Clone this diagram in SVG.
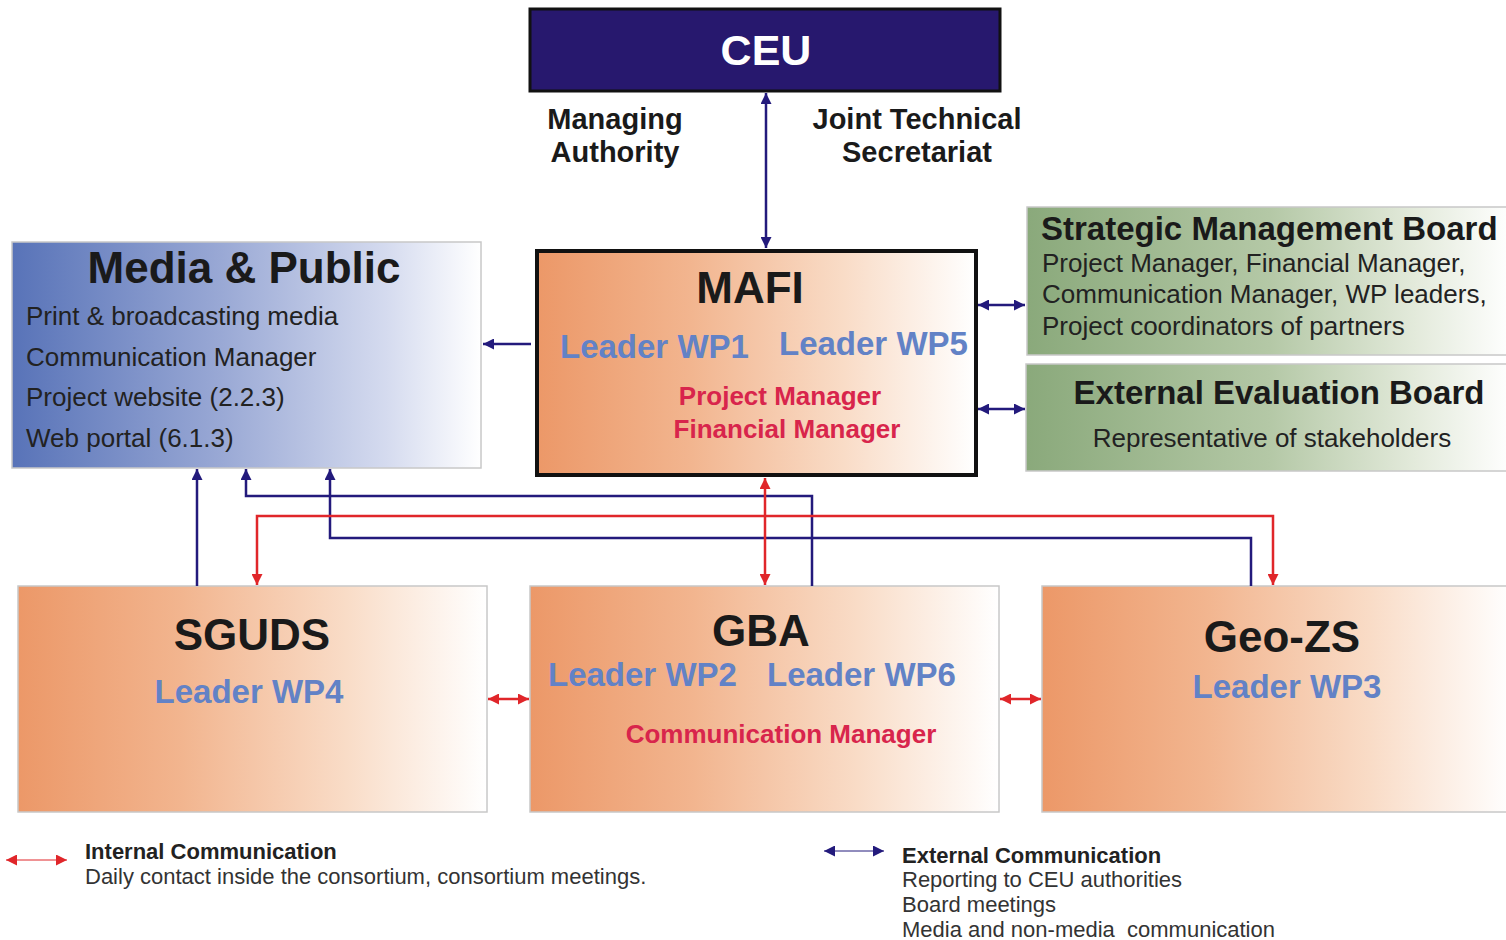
<svg xmlns="http://www.w3.org/2000/svg" width="1506" height="940" viewBox="0 0 1506 940">
<style>
text{font-family:"Liberation Sans",Arial,sans-serif}
.t{font-weight:bold;fill:#1a1a1a}
.lead{font-weight:bold;fill:#6282c6;font-size:33px}
.red{font-weight:bold;fill:#d8254c;font-size:26px}
.body{fill:#222;font-size:26px}
.nav{fill:none;stroke:#231a7c;stroke-width:2.5}
.rd{fill:none;stroke:#e0262a;stroke-width:2.5}
.box{stroke:#c8c8c8;stroke-width:1.5}
</style>
<defs>
<linearGradient id="og" x1="0" y1="0" x2="1" y2="0">
<stop offset="0" stop-color="#ec9868"/>
<stop offset="0.35" stop-color="#f2b58f"/>
<stop offset="0.7" stop-color="#f9dcc7"/>
<stop offset="1" stop-color="#ffffff"/>
</linearGradient>
<linearGradient id="bg" x1="0" y1="0" x2="1" y2="0">
<stop offset="0" stop-color="#5873b8"/>
<stop offset="0.45" stop-color="#9aa9d5"/>
<stop offset="0.8" stop-color="#d5dbef"/>
<stop offset="1" stop-color="#ffffff"/>
</linearGradient>
<linearGradient id="gg" x1="0" y1="0" x2="1" y2="0">
<stop offset="0" stop-color="#8aa97b"/>
<stop offset="0.5" stop-color="#b4c8a6"/>
<stop offset="0.8" stop-color="#e3eadb"/>
<stop offset="1" stop-color="#ffffff"/>
</linearGradient>
<marker id="an" viewBox="0 0 10 10" refX="10" refY="5" markerWidth="13" markerHeight="11" markerUnits="userSpaceOnUse" orient="auto-start-reverse"><path d="M0,0 L10,5 L0,10 z" fill="#231a7c"/></marker>
<marker id="ar" viewBox="0 0 10 10" refX="10" refY="5" markerWidth="13" markerHeight="11" markerUnits="userSpaceOnUse" orient="auto-start-reverse"><path d="M0,0 L10,5 L0,10 z" fill="#e0262a"/></marker>
</defs>
<rect width="1506" height="940" fill="#ffffff"/>

<g id="ceu">
<rect x="530" y="9" width="470" height="82" fill="#27186e" stroke="#111" stroke-width="3"/>
<text x="766" y="65" text-anchor="middle" font-size="43" font-weight="bold" fill="#ffffff">CEU</text>
</g>
<g id="ceu-labels">
<text class="t" font-size="29" x="615" y="129" text-anchor="middle">Managing</text>
<text class="t" font-size="29" x="615" y="162" text-anchor="middle">Authority</text>
<text class="t" font-size="29" x="917" y="129" text-anchor="middle">Joint Technical</text>
<text class="t" font-size="29" x="917" y="162" text-anchor="middle">Secretariat</text>
</g>

<g id="media">
<rect class="box" x="12" y="242" width="469" height="226" fill="url(#bg)"/>
<text class="t" font-size="44" x="244" y="283" text-anchor="middle">Media &amp; Public</text>
<text class="body" x="26" y="325">Print &amp; broadcasting media</text>
<text class="body" x="26" y="366">Communication Manager</text>
<text class="body" x="26" y="406">Project website (2.2.3)</text>
<text class="body" x="26" y="447">Web portal (6.1.3)</text>
</g>

<g id="mafi">
<rect x="537" y="251" width="439" height="224" fill="url(#og)" stroke="#111" stroke-width="4"/>
<text class="t" font-size="44" x="750" y="303" text-anchor="middle">MAFI</text>
<text class="lead" x="560" y="358">Leader WP1</text>
<text class="lead" x="779" y="355">Leader WP5</text>
<text class="red" font-size="27" x="780" y="405" text-anchor="middle">Project Manager</text>
<text class="red" font-size="27" x="787" y="438" text-anchor="middle">Financial Manager</text>
</g>

<g id="smb">
<rect class="box" x="1027" y="207" width="485" height="148" fill="url(#gg)"/>
<text class="t" font-size="33" x="1041" y="240">Strategic Management Board</text>
<text class="body" font-size="26.4" x="1042" y="272">Project Manager, Financial Manager,</text>
<text class="body" font-size="26.4" x="1042" y="303">Communication Manager, WP leaders,</text>
<text class="body" font-size="26.4" x="1042" y="335">Project coordinators of partners</text>
</g>

<g id="eeb">
<rect class="box" x="1026" y="364" width="486" height="107" fill="url(#gg)"/>
<text class="t" font-size="33" x="1279" y="404" text-anchor="middle">External Evaluation Board</text>
<text class="body" font-size="26.3" x="1272" y="447" text-anchor="middle">Representative of stakeholders</text>
</g>

<g id="sguds">
<rect class="box" x="18" y="586" width="469" height="226" fill="url(#og)"/>
<text class="t" font-size="44" x="252" y="650" text-anchor="middle">SGUDS</text>
<text class="lead" x="249" y="703" text-anchor="middle">Leader WP4</text>
</g>

<g id="gba">
<rect class="box" x="530" y="586" width="469" height="226" fill="url(#og)"/>
<text class="t" font-size="44" x="761" y="646" text-anchor="middle">GBA</text>
<text class="lead" x="548" y="686">Leader WP2</text>
<text class="lead" x="767" y="686">Leader WP6</text>
<text class="red" x="781" y="743" text-anchor="middle">Communication Manager</text>
</g>

<g id="geozs">
<rect class="box" x="1042" y="586" width="470" height="226" fill="url(#og)"/>
<text class="t" font-size="44" x="1282" y="652" text-anchor="middle">Geo-ZS</text>
<text class="lead" x="1287" y="698" text-anchor="middle">Leader WP3</text>
</g>

<g id="connectors">
<line class="nav" x1="766" y1="93" x2="766" y2="248" stroke-width="3" marker-start="url(#an)" marker-end="url(#an)"/>
<line class="nav" x1="531" y1="344" x2="483" y2="344" marker-end="url(#an)"/>
<line class="nav" x1="978" y1="305" x2="1025" y2="305" marker-start="url(#an)" marker-end="url(#an)"/>
<line class="nav" x1="978" y1="409" x2="1025" y2="409" marker-start="url(#an)" marker-end="url(#an)"/>
<line class="nav" x1="197" y1="586" x2="197" y2="469" marker-end="url(#an)"/>
<polyline class="nav" points="812,586 812,496 246,496 246,469" marker-end="url(#an)"/>
<polyline class="nav" points="1251,586 1251,538 330,538 330,469" marker-end="url(#an)"/>
<polyline class="rd" points="257,585 257,516 1273,516 1273,585" marker-start="url(#ar)" marker-end="url(#ar)"/>
<line class="rd" x1="765" y1="478" x2="765" y2="585" marker-start="url(#ar)" marker-end="url(#ar)"/>
<line class="rd" x1="488" y1="699" x2="529" y2="699" marker-start="url(#ar)" marker-end="url(#ar)"/>
<line class="rd" x1="1000" y1="699" x2="1041" y2="699" marker-start="url(#ar)" marker-end="url(#ar)"/>
</g>

<g id="legend">
<line x1="6" y1="860" x2="67" y2="860" stroke="#e0262a" stroke-width="1" marker-start="url(#ar)" marker-end="url(#ar)"/>
<text x="85" y="859" font-size="22" font-weight="bold" fill="#222">Internal Communication</text>
<text x="85" y="884" font-size="22" fill="#333">Daily contact inside the consortium, consortium meetings.</text>
<line x1="824" y1="851" x2="884" y2="851" stroke="#231a7c" stroke-width="1" marker-start="url(#an)" marker-end="url(#an)"/>
<text x="902" y="863" font-size="22" font-weight="bold" fill="#222">External Communication</text>
<text x="902" y="887" font-size="22" fill="#333">Reporting to CEU authorities</text>
<text x="902" y="912" font-size="22" fill="#333">Board meetings</text>
<text x="902" y="937" font-size="22" fill="#333" style="white-space:pre">Media and non-media  communication</text>
</g>
</svg>
